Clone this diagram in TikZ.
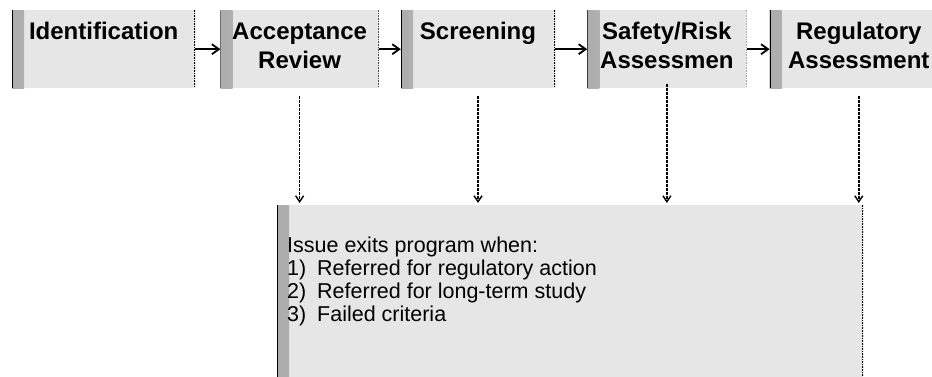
\documentclass[tikz,border=0pt]{standalone}
\usepackage{fontspec}
\setmainfont{Liberation Sans}
\usepackage{xcolor}
\usepackage{tikz}
\usetikzlibrary{arrows.meta, positioning}
\definecolor{stipplegray}{RGB}{230, 230, 230}
\newcommand{\stagelabel}[2]{\parbox[c][78pt][t]{#1}{\centering\rule{0pt}{29pt}#2}}
\newcommand{\itemno}[1]{\makebox[30pt][l]{#1}}

\begin{document}
\begin{tikzpicture}[x=1pt, y=-1pt,
        stage/.style={inner sep=0pt, fill=stipplegray,
              font=\fontsize{24}{29}\selectfont\bfseries,
              path picture={
                \shade[left color=gray!65, right color=stipplegray]
                  (path picture bounding box.north west) rectangle
                  ([xshift=12pt]path picture bounding box.south west);
                \draw[line width=1.6pt] (path picture bounding box.north west)
                  -- (path picture bounding box.south west);
                \draw[densely dotted, line width=1.6pt] (path picture bounding box.north east)
                  -- (path picture bounding box.south east);
              }},
        flow/.style={line width=1.8pt, -{Straight Barb[length=7pt, width=10pt]}},
        exit/.style={line width=1.4pt, dash pattern=on 3pt off 1pt,
              -{Straight Barb[length=6pt, width=8pt]}, shorten >=2pt}]
        \useasboundingbox (0,0) rectangle (932,377);
        % process stages
        \node[stage, anchor=north west] (ident) at (12,10) {\stagelabel{183pt}{Identification}};
        \node[stage, right=25pt of ident] (accept) {\stagelabel{158pt}{Acceptance\\Review}};
        \node[stage, right=22pt of accept] (screen) {\stagelabel{154pt}{Screening}};
        \node[stage, right=32pt of screen] (safety) {\stagelabel{159pt}{Safety/Risk\\Assessmen}};
        \node[stage, right=23pt of safety] (regul) {\stagelabel{178pt}{Regulatory\\Assessment}};
        % exit box
        \node[stage, anchor=north west, font=\fontsize{21.5}{23}\selectfont] (exits) at (277,205) {%
            \parbox[c][180pt][t]{586pt}{\hspace*{10pt}\parbox[t]{560pt}{\rule{0pt}{47pt}Issue exits program when:\\
            \itemno{1)}Referred for regulatory action\\
            \itemno{2)}Referred for long-term study\\
            \itemno{3)}Failed criteria}}};
        % connectors
        \draw[flow] (ident) -- (accept);
        \draw[flow] (accept) -- (screen);
        \draw[flow] (screen) -- (safety);
        \draw[flow] (safety) -- (regul);
        \draw[exit, shorten <=8pt] (accept.south) -- (accept.south |- exits.north);
        \draw[exit, shorten <=8pt] (screen.south) -- (screen.south |- exits.north);
        \draw[exit, shorten <=-4pt] (safety.south) -- (safety.south |- exits.north);
        \draw[exit, shorten <=8pt] (regul.south) -- (regul.south |- exits.north);
    \end{tikzpicture}
\end{document}
